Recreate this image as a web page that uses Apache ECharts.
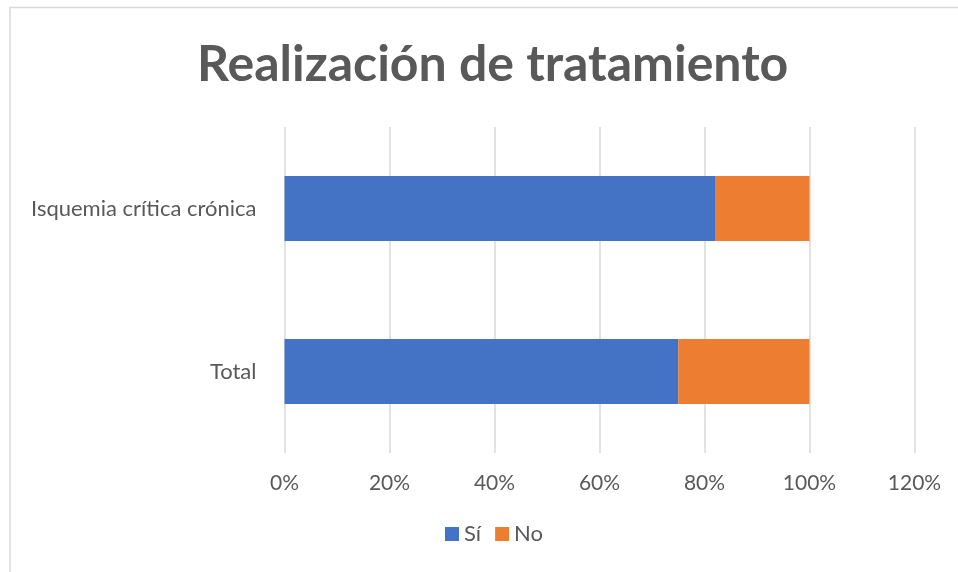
<!DOCTYPE html>
<html>
<head>
<meta charset="utf-8">
<script src="https://cdn.jsdelivr.net/npm/echarts@6/dist/echarts.min.js"></script>
<style>
  html, body { margin: 0; padding: 0; background: #fff; }
  #chart { width: 958px; height: 572px; }
</style>
</head>
<body>
<div id="chart"></div>
<script>
const categories = ['Total', 'Isquemia crítica crónica']
const siValues = [75, 82]
const noValues = [25, 18]
const xTicks = [0, 20, 40, 60, 80, 100, 120]

const chart = echarts.init(document.getElementById('chart'))
const font = 'Lato, "Open Sans", sans-serif'

chart.setOption({
  backgroundColor: '#fff',
  animation: false,
  graphic: [{
    type: 'rect',
    shape: { x: 10, y: 7.5, width: 960, height: 580 },
    style: { fill: 'none', stroke: '#d9d9d9', lineWidth: 1.5 },
    silent: true
  }],
  title: {
    text: 'Realización de tratamiento',
    left: 192,
    top: 35,
    textStyle: {
      color: '#595959',
      fontSize: 50,
      fontWeight: 'bold',
      fontFamily: font
    }
  },
  legend: {
    data: ['Sí', 'No'],
    bottom: 22,
    left: 440,
    itemWidth: 14,
    itemHeight: 14,
    itemGap: 14,
    icon: 'rect',
    textStyle: { color: '#595959', fontSize: 22, fontFamily: font }
  },
  grid: {
    left: 284.5,
    right: 43.5,
    top: 127,
    bottom: 119,
    containLabel: false
  },
  xAxis: {
    type: 'value',
    min: 0,
    max: xTicks[xTicks.length - 1],
    interval: 20,
    axisLine: { show: false },
    axisTick: { show: false },
    splitLine: { show: true, lineStyle: { color: '#d9d9d9', width: 1.5 } },
    axisLabel: {
      formatter: '{value}%',
      color: '#595959',
      fontSize: 21,
      fontFamily: font,
      margin: 20
    }
  },
  yAxis: {
    type: 'category',
    data: categories,
    axisLine: { show: false },
    axisTick: { show: false },
    axisLabel: {
      color: '#595959',
      fontSize: 22,
      fontFamily: font,
      margin: 28
    }
  },
  series: [{
    name: 'Sí',
    type: 'bar',
    stack: 'total',
    barWidth: '40%',
    itemStyle: { color: '#4472c4' },
    data: siValues
  }, {
    name: 'No',
    type: 'bar',
    stack: 'total',
    barWidth: '40%',
    itemStyle: { color: '#ed7d31' },
    data: noValues
  }]
})
</script>
</body>
</html>
